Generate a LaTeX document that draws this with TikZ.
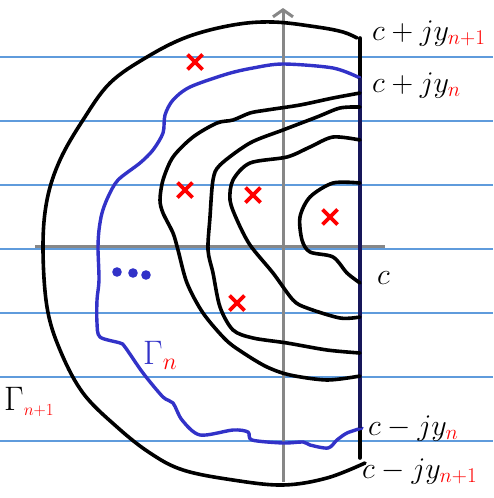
\RequirePackage{fix-cm}
\documentclass[tikz,border=0pt]{standalone}
\usepackage{amsmath, amssymb}
\usepackage{tikz}
\usetikzlibrary{arrows.meta}

\definecolor{ruleblue}{RGB}{95,155,220}
\definecolor{penblue}{RGB}{50,50,200}
\definecolor{axisgray}{RGB}{135,135,135}

\begin{document}
\begin{tikzpicture}[
        x=1pt, y=-1pt,
        ruled/.style={draw=ruleblue, line width=1.3pt},
        axisline/.style={draw=axisgray, line width=3pt},
        pen/.style={draw=black, line width=3.6pt, line cap=round, line join=round},
        bluepen/.style={draw=penblue, line width=3.4pt, line cap=round, line join=round},
        cross/.style={draw=red, line width=3.6pt},
        lbl/.style={anchor=base west, inner sep=0pt, font=\fontsize{30}{34}\selectfont},
        gam/.style={anchor=base west, inner sep=0pt, font=\fontsize{34}{38}\selectfont}
    ]
        \useasboundingbox[fill=white] (0,0) rectangle (493,498);

        % Ruled paper
        \foreach \ry in {57,121,185,249,313,377,441}
            \draw[ruled] (0,\ry) -- (493,\ry);

        % Axes
        \draw[axisline] (35,246) -- (385,246);
        \draw[axisline, -{Straight Barb[length=7pt, width=20pt]}] (283,482) -- (283,8);

        % Half disc
        \draw[pen] plot[smooth, tension=0.6] coordinates {(357,38) (343,32) (317,27) (273,22) (233,25) (187,37) (147,57) (110,83) (83,120) (60,160) (47,200) (43,247) (47,307) (60,350) (83,393) (117,427) (150,453) (183,470) (233,480) (283,485) (327,478) (365,463)};
        \draw[pen] (360,38) -- (360,458);

        % Gamma_n
        \draw[bluepen] plot[smooth, tension=0.5] coordinates {(360,78) (333,68) (283,64) (253,68) (227,74) (190,87) (173,100) (165,115) (163,133) (153,150) (140,163) (118,180) (108,197) (102,213) (99,230) (98,248) (99,280) (97,300) (97,323) (100,337) (120,343) (125,347) (143,373) (163,397) (173,403) (182,420) (200,435) (233,430) (248,432) (252,440) (283,443) (303,442) (310,445) (328,448) (337,440) (347,433) (362,428)};
        \draw[draw=penblue!45!black, line width=3.4pt] (360,78) -- (360,428);

        % Level curves
        \draw[pen] plot[smooth, tension=0.5] coordinates {(360,93) (333,98) (300,105) (267,110) (250,113) (233,120) (217,123) (193,137) (173,157) (163,180) (160,200) (163,213) (173,233) (178,250) (187,283) (203,313) (226,340) (245,354) (267,367) (290,375) (327,380) (360,376)};
        \draw[pen] plot[smooth, tension=0.5] coordinates {(360,107) (340,108) (317,117) (283,130) (250,143) (220,165) (213,180) (210,217) (208,250) (213,273) (220,307) (233,330) (253,338) (287,343) (327,350) (360,353)};
        \draw[pen] plot[smooth, tension=0.5] coordinates {(360,140) (333,137) (310,147) (287,157) (250,163) (233,180) (230,200) (237,220) (250,245) (273,273) (293,300) (307,308) (340,318) (360,317)};
        \draw[pen] plot[smooth, tension=0.5] coordinates {(360,183) (333,183) (310,197) (300,217) (302,240) (310,252) (333,257) (347,273) (360,283)};

        % Poles
        \foreach \cx/\cy in {195/62, 185/190, 253/195, 330/217, 237/303}
            \draw[cross] (\cx-7.5,\cy-7.5) -- (\cx+7.5,\cy+7.5) (\cx-7.5,\cy+7.5) -- (\cx+7.5,\cy-7.5);

        % Dots
        \foreach \dx/\dy in {117/272, 133/273, 146/275}
            \fill[penblue] (\dx,\dy) circle (4.8);

        % Labels
        \node[lbl] (top1) at (372,40) {$c+jy_{\textcolor{red}{n+1}}$};
        \node[lbl] (top0) at (372,92) {$c+jy_{\textcolor{red}{n}}$};
        \node[lbl] (mid) at (377,284) {$c$};
        \node[lbl] (bot0) at (368,435) {$c-jy_{\textcolor{red}{n}}$};
        \node[lbl] (bot1) at (362,478) {$c-jy_{\textcolor{red}{n+1}}$};
        \node[gam, text=penblue] (gamn) at (143,364) {$\Gamma_{\textcolor{red}{n}}$};
        \node[gam] (gamn1) at (4,410) {$\Gamma_{\textcolor{red}{\scriptscriptstyle n+1}}$};
    \end{tikzpicture}
\end{document}
